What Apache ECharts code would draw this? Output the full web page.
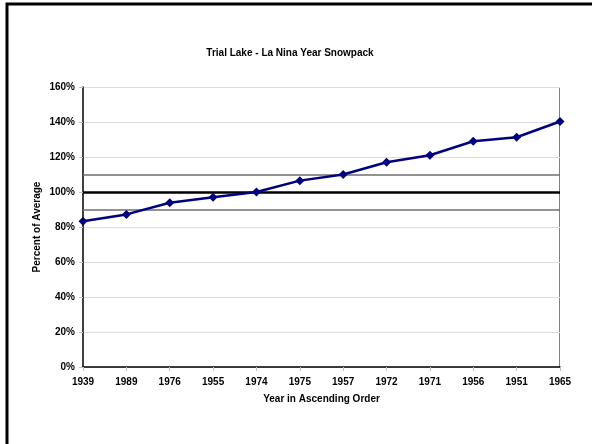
<!DOCTYPE html>
<html>
<head>
<meta charset="utf-8">
<script src="https://cdn.jsdelivr.net/npm/echarts@6/dist/echarts.min.js"></script>
<style>
	html, body { margin: 0; padding: 0; background: #fff; }
	#chart { width: 592px; height: 444px; }
</style>
</head>
<body>
<div id="chart"></div>
<script>
	// 年份（按升序排列的积雪百分比）
	var years = ['1939', '1989', '1976', '1955', '1974', '1975', '1957', '1972', '1971', '1956', '1951', '1965'];
	var snowpack = [83.3, 87.2, 93.9, 97, 100, 106.5, 110, 117, 121, 129, 131.3, 140.3];
	// 参考线：平均值及 ±10%
	var refLines = [90, 100, 110];

	var font = 'Liberation Sans, Arial, sans-serif';
	var chart = echarts.init(document.getElementById('chart'));
	chart.setOption({
		backgroundColor: '#fff',
		animation: false,
		title: {
			text: 'Trial Lake - La Nina Year Snowpack',
			left: 285,
			textAlign: 'center',
			top: 43,
			textStyle: { fontFamily: font, fontSize: 10, fontWeight: 'bold', color: '#000' }
		},
		graphic: [{
			type: 'rect',
			shape: { x: 7, y: 4, width: 700, height: 600 },
			style: { fill: 'none', stroke: '#000', lineWidth: 3 },
			silent: true
		}, {
			// 绘图区上、右边框
			type: 'polyline',
			shape: { points: [[83, 87.5], [559.5, 87.5], [559.5, 367]] },
			style: { fill: 'none', stroke: '#808080', lineWidth: 1 },
			silent: true
		}],
		grid: { left: 83, right: 32, top: 87, bottom: 77 },
		xAxis: {
			type: 'category',
			data: years,
			boundaryGap: false,
			name: 'Year in Ascending Order',
			nameLocation: 'middle',
			nameGap: 27,
			nameTextStyle: { fontFamily: font, fontSize: 10, fontWeight: 'bold', color: '#000' },
			axisLine: { lineStyle: { color: '#000', width: 1.5 } },
			axisTick: { show: true, length: 4, lineStyle: { color: '#c0c0c0' } },
			axisLabel: { fontFamily: font, fontSize: 10, fontWeight: 'bold', color: '#000', margin: 10 }
		},
		yAxis: {
			type: 'value',
			min: 0,
			max: 160,
			interval: 20,
			name: 'Percent of Average',
			nameLocation: 'middle',
			nameGap: 41,
			nameMoveOverlap: false,
			nameTextStyle: { fontFamily: font, fontSize: 10, fontWeight: 'bold', color: '#000' },
			axisLine: { show: true, lineStyle: { color: '#000', width: 1.5 } },
			axisTick: { show: true, length: 4, lineStyle: { color: '#c0c0c0' } },
			axisLabel: { fontFamily: font, fontSize: 10, fontWeight: 'bold', color: '#000', margin: 8, formatter: '{value}%' },
			splitLine: { lineStyle: { color: '#dcdcdc', width: 1 } }
		},
		series: [{
			type: 'line',
			data: snowpack,
			symbol: 'diamond',
			symbolSize: 9,
			lineStyle: { color: '#000080', width: 2.5 },
			itemStyle: { color: '#000080' },
			z: 5,
			markLine: {
				silent: true,
				symbol: 'none',
				label: { show: false },
				z: 3,
				data: [
					{ yAxis: refLines[0], lineStyle: { color: '#6e6e6e', width: 1.5, type: 'solid' } },
					{ yAxis: refLines[1], lineStyle: { color: '#000', width: 2.5, type: 'solid' } },
					{ yAxis: refLines[2], lineStyle: { color: '#6e6e6e', width: 1.5, type: 'solid' } }
				]
			}
		}]
	});
</script>
</body>
</html>
